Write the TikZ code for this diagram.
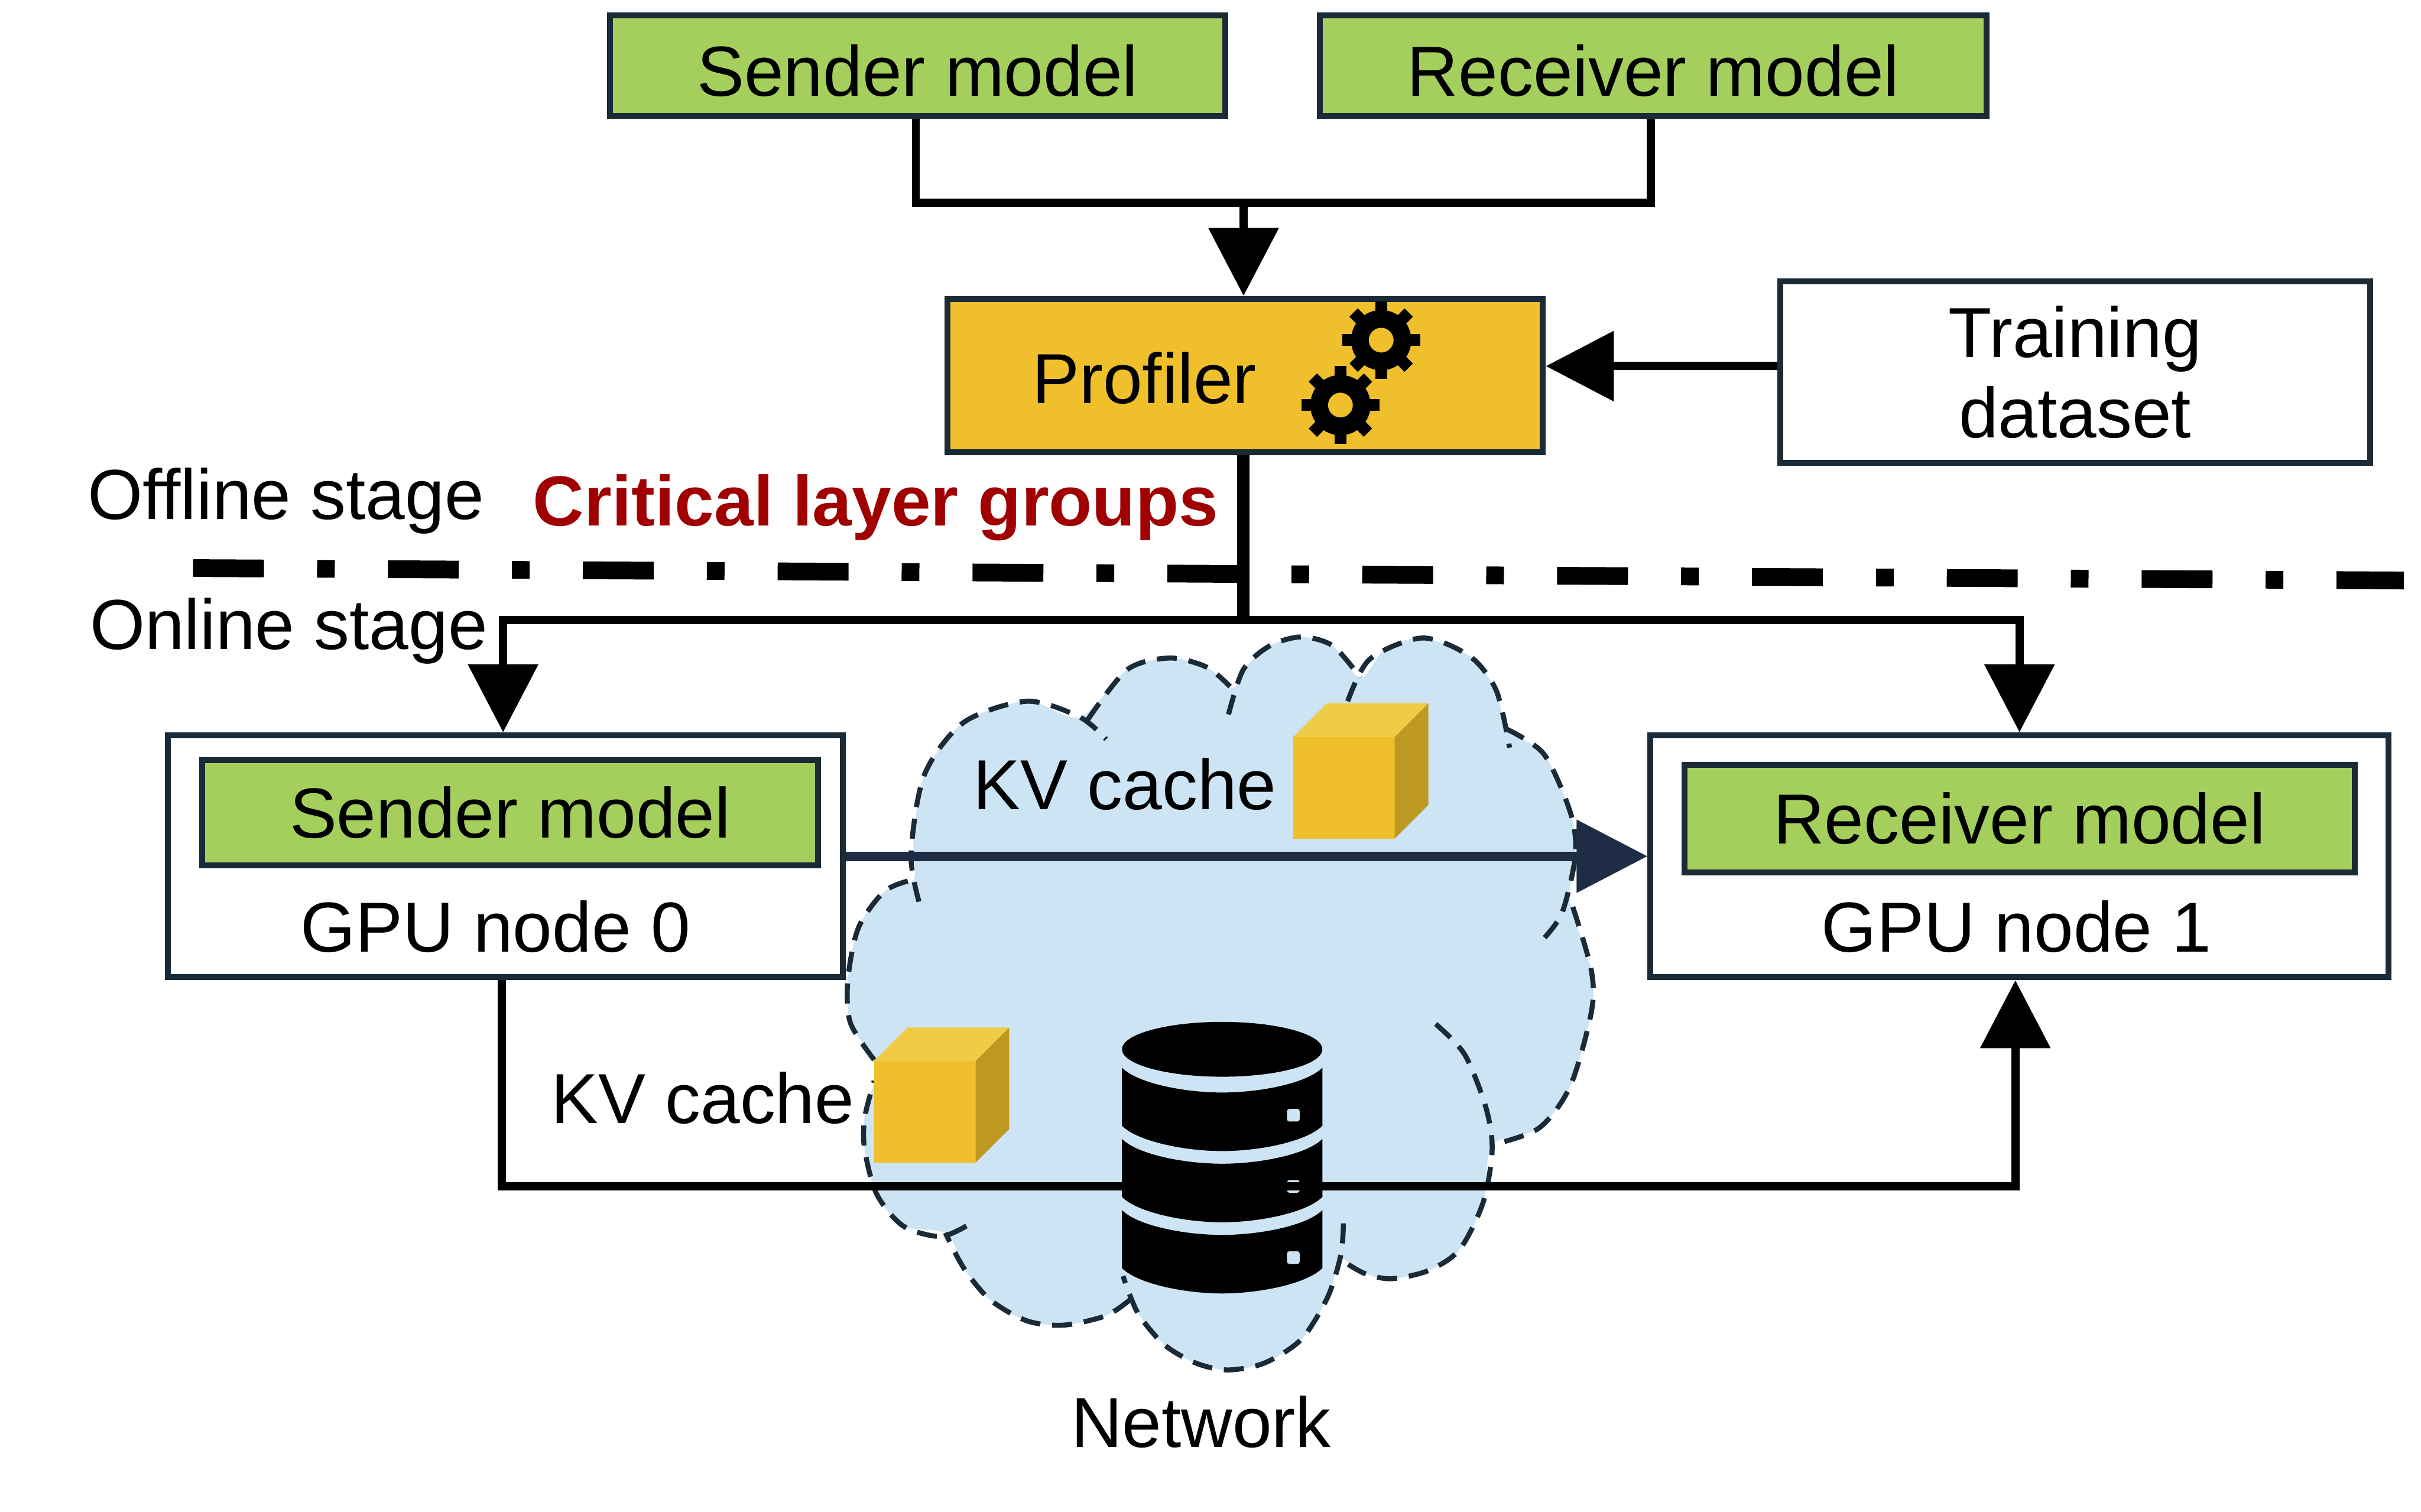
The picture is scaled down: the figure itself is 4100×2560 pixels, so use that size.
\documentclass[tikz,border=0pt]{standalone}
\usepackage{fontspec}
\setmainfont{Liberation Sans}
\usetikzlibrary{arrows.meta,calc,positioning}
\definecolor{pfInk}{HTML}{1A2A36}
\definecolor{pfNavy}{HTML}{1E2D45}
\definecolor{pfGreen}{HTML}{A5CF5D}
\definecolor{pfGold}{HTML}{EFBF2C}
\definecolor{pfGoldTop}{HTML}{F0CB45}
\definecolor{pfGoldSide}{HTML}{BE9922}
\definecolor{pfCloud}{HTML}{CDE4F4}
\definecolor{pfRed}{HTML}{A00000}
\tikzset{
  pf box/.style={draw=pfInk, fill=white, line width=1mm, inner sep=0pt},
  pf model/.style={pf box, fill=pfGreen, font=\fontsize{34.14}{38.7}\selectfont},
  pf profiler/.style={pf box, fill=pfGold},
  pf label/.style={font=\fontsize{34.14}{38.7}\selectfont, text=black, inner sep=0pt},
  pf critical/.style={pf label, font=\fontsize{34.14}{38.7}\selectfont\bfseries, text=pfRed},
  pf line/.style={draw=black, line width=1.4mm},
  pf flow/.style={
    pf line,
    -{Triangle[length=11.5mm,width=11.6mm]}
  },
  pf transfer/.style={
    draw=pfNavy,
    line width=1.6mm,
    -{Triangle[length=12mm,width=12mm]}
  },
  pf stage/.style={
    draw=black,
    line width=3mm,
    dash pattern=on 12mm off 9mm on 3mm off 9mm
  },
  pf lobe/.style={draw=pfInk, line width=.85mm, dash pattern=on 3.4mm off 2mm}
}
\begin{document}
\begin{tikzpicture}[x=.1mm,y=-.1mm]
  \path[use as bounding box, fill=white] (0,0) rectangle (4100,2560);

  % network cloud, traced lobe by lobe
  \begin{scope}[shift={(1400,1000)},scale=.893]
    \fill[pfCloud] plot[smooth cycle] coordinates {
      (40,740) (60,640) (110,570) (165,548) (165,470) (185,350) (260,250) (380,210) (480,240)
      (570,150) (650,128) (720,145) (770,185) (790,150) (840,105) (900,88) (960,105) (1012,165)
      (1060,110) (1130,90) (1220,125) (1270,190) (1290,262) (1360,310) (1410,420) (1420,500)
      (1410,590) (1450,720) (1450,800) (1410,940) (1350,1020) (1262,1052) (1245,1160) (1200,1250)
      (1140,1290) (1070,1305) (1020,1295) (975,1270) (950,1340) (900,1420) (830,1465) (760,1478)
      (700,1465) (640,1430) (590,1370) (572,1345) (530,1375) (450,1393) (380,1385) (310,1345)
      (260,1285) (228,1220) (145,1205) (95,1145) (72,1060) (72,1000) (90,930) (90,890) (45,820)};
    \draw[pf lobe] plot[smooth] coordinates {(175,590) (160,500) (185,350) (260,250) (380,210) (480,240) (530,282)};
    \draw[pf lobe] plot[smooth] coordinates {(495,245) (570,150) (650,128) (720,145) (765,182)};
    \draw[pf lobe] plot[smooth] coordinates {(762,235) (790,150) (840,105) (900,88) (960,105) (1012,165)};
    \draw[pf lobe] plot[smooth] coordinates {(988,210) (1030,130) (1130,90) (1220,125) (1270,190) (1295,298)};
    \draw[pf lobe] plot[smooth] coordinates {(1288,262) (1360,310) (1410,420) (1420,500) (1395,610) (1358,662)};
    \draw[pf lobe] plot[smooth] coordinates {(1415,600) (1450,720) (1450,800) (1410,940) (1350,1020) (1258,1052)};
    \draw[pf lobe] plot[smooth] coordinates {(1155,822) (1210,880) (1250,980) (1262,1060) (1245,1160) (1200,1250) (1140,1290) (1070,1305) (1020,1295) (980,1272)};
    \draw[pf lobe] plot[smooth] coordinates {(980,1200) (975,1260) (950,1340) (900,1420) (830,1465) (760,1478) (700,1465) (640,1430) (590,1370) (562,1300)};
    \draw[pf lobe] plot[smooth] coordinates {(575,1345) (530,1375) (450,1393) (380,1385) (310,1345) (260,1285) (225,1218)};
    \draw[pf lobe] plot[smooth] coordinates {(265,1205) (215,1225) (145,1205) (95,1145) (72,1060) (72,1000) (90,930)};
    \draw[pf lobe] plot[smooth] coordinates {(90,890) (45,820) (40,740) (60,640) (110,570) (165,548)};

    % database
    \fill[black] (750,870) ellipse [x radius=190,y radius=52];
    \foreach \by in {0,135,270} {
      \begin{scope}[shift={(0,\by)}]
        \fill[black] (560,905) .. controls (590,935) and (680,952) .. (750,952)
          .. controls (820,952) and (910,935) .. (940,905) -- (940,1015)
          .. controls (910,1045) and (820,1063) .. (750,1063)
          .. controls (680,1063) and (590,1045) .. (560,1015) -- cycle;
        \fill[pfCloud, rounded corners=.4mm] (873,983) rectangle (897,1007);
      \end{scope}
    }
  \end{scope}

  % cubes
  \foreach \cx/\cy in {2190/1248,1480/1797} {
    \fill[pfGold] (\cx,\cy) rectangle ++(172,172);
    \fill[pfGoldTop] (\cx,\cy) -- ++(57,-57) -- ++(172,0) -- ++(-57,57) -- cycle;
    \fill[pfGoldSide] (\cx+172,\cy) -- ++(57,-57) -- ++(0,172) -- ++(-57,57) -- cycle;
  }

  \node[pf model, minimum width=104.3mm, minimum height=17mm, text height=10.4mm, text depth=0pt] (senderTop) at (1554,111) {Sender model};
  \node[pf model, minimum width=112.9mm, minimum height=17mm, text height=10.4mm, text depth=0pt] (receiverTop) at (2800,111) {Receiver model};
  \node[pf profiler, minimum width=100.8mm, minimum height=26mm] (profiler) at (2109,636) {};
  \node[pf box, pf label, align=center, minimum width=99.9mm, minimum height=30.8mm] (training) at (3514,630) {Training\\dataset};
  \node[pf box, minimum width=114.3mm, minimum height=41mm] (gpuZero) at (856,1450) {};
  \node[pf box, minimum width=125mm, minimum height=41mm] (gpuOne) at (3420,1450) {};
  \node[pf model, minimum width=104.3mm, minimum height=17.8mm] (senderLow) at (864,1376) {Sender model};
  \node[pf model, minimum width=113.5mm, minimum height=18.2mm] (receiverLow) at (3420,1386) {Receiver model};

  \node[pf label] (profilerText) at (1938,640) {Profiler};
  \node[pf label] (gpuZeroText) at (839,1569) {GPU node 0};
  \node[pf label] (gpuOneText) at (3415,1569) {GPU node 1};
  \node[pf label] (offlineText) at (484,848) {Offline stage};
  \node[pf label] (onlineText) at (489,1069) {Online stage};
  \node[pf critical] (criticalText) at (1483,860) {Critical layer groups};
  \node[pf label] (kvUpper) at (1905,1328) {KV cache};
  \node[pf label] (kvLower) at (1190,1859) {KV cache};
  \node[pf label] (networkText) at (2034,2408) {Network};

  % gears
  \foreach \gx/\gy in {2339/576,2270/686} {
    \draw[black, line width=3mm] (\gx,\gy) circle [radius=36];
    \foreach \ga in {0,45,...,315} {
      \draw[black, line width=2mm] ($(\gx,\gy)+(\ga:45)$) -- ($(\gx,\gy)+(\ga:66)$);
    }
  }

  \coordinate (topJoin) at (2106,343);
  \coordinate (onlineJoin) at (2106,1050);
  \coordinate (bottomJoin) at (2106,2009);
  \coordinate (stageStart) at (327,962);
  \coordinate (stageEnd) at (4071,983);

  \draw[pf stage] (stageStart) -- (stageEnd);
  \draw[pf line] ([xshift=-.3mm]senderTop.south) |- (topJoin) -| ([xshift=-.4mm]receiverTop.south);
  \draw[pf flow] (topJoin) -- (topJoin |- profiler.north);
  \draw[pf flow] ([yshift=1mm]training.west) -- ([yshift=1.6mm]profiler.east);
  \draw[pf line, line width=2.1mm] (onlineJoin |- profiler.south) -- (onlineJoin);
  \draw[pf flow] (onlineJoin) -| ([xshift=-.4mm]gpuZero.north);
  \draw[pf flow] (onlineJoin) -| (gpuOne.north);
  \draw[pf transfer] (gpuZero.east) -- (gpuOne.west);
  \draw[pf flow] ([xshift=-.6mm]gpuZero.south) |- (bottomJoin) -| ([xshift=-.7mm]gpuOne.south);
\end{tikzpicture}
\end{document}
